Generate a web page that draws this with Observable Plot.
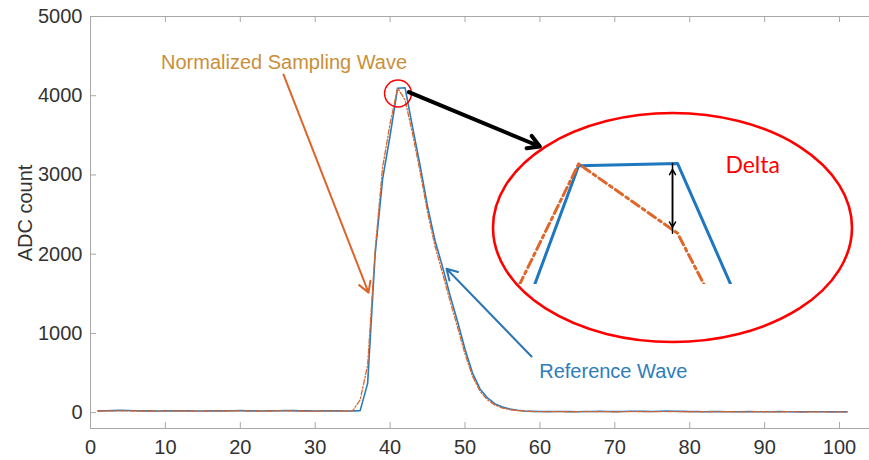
<!DOCTYPE html>
<html>
<head>
<meta charset="utf-8">
<script src="https://cdn.jsdelivr.net/npm/d3@7"></script>
<script src="https://cdn.jsdelivr.net/npm/@observablehq/plot@0.6"></script>
<style>
  html, body { margin: 0; padding: 0; background: #fff; }
  #chart { position: relative; width: 869px; height: 460px; overflow: hidden; }
  #chart svg { position: absolute; }
</style>
</head>
<body>
<div id="chart"></div>
<script>
// Sample index (time axis) and the two waveforms, in ADC counts
const sampleIndex = d3.range(1, 102);
const referenceWave = [
  22, 24, 26, 30, 27, 24, 23, 22, 21, 22,
  23, 24, 22, 21, 20, 22, 23, 22, 24, 25,
  23, 22, 21, 22, 24, 28, 25, 23, 22, 21,
  22, 23, 22, 21, 22,
  26, 370, 2000, 2950, 3500,
  4095, 4100, 3600, 3120, 2600,
  2170, 1840, 1480, 1150, 800,
  500, 300, 185, 110, 70,
  45, 30, 20, 16, 14,
  13, 14, 15, 13, 12, 14, 15, 16, 14, 13,
  15, 17, 18, 16, 15, 17, 19, 18, 16, 14,
  13, 12, 13, 14, 12, 11, 12, 13, 12, 11,
  12, 13, 12, 11, 10, 11, 12, 11, 10, 11, 10
];
const samplingWave = [
  20, 21, 22, 23, 22, 21, 20, 21, 20, 21,
  22, 21, 20, 19, 20, 21, 22, 21, 22, 23,
  22, 21, 20, 21, 22, 24, 23, 21, 20, 20,
  21, 22, 21, 20, 24,
  160, 600, 2050, 3100, 3650,
  4099, 3945, 3520, 3040, 2530,
  2100, 1760, 1410, 1080, 740,
  460, 270, 160, 95, 58,
  38, 26, 20, 15, 13,
  12, 13, 12, 11, 12, 13, 12, 13, 12, 11,
  12, 13, 14, 13, 12, 13, 14, 13, 12, 11,
  12, 11, 12, 13, 12, 11, 10, 11, 12, 11,
  10, 11, 12, 11, 10, 11, 10, 11, 10, 9, 10
];

// Axes
const xTicks = [0, 10, 20, 30, 40, 50, 60, 70, 80, 90, 100];
const yTicks = [0, 1000, 2000, 3000, 4000, 5000];
const xDomain = [0, 104];
const yDomain = [-200, 5000];

// Magnified window around the peak (sample units, ADC counts)
const zoomX = [40.16, 42.94];
const zoomY = [3831, 4151];
const deltaSample = 42;

// Annotation anchors (data units)
const peakMarker = [{x: 41.05, y: 4028}];
const sampleArrow = [{x1: 25.77, y1: 4266, x2: 37.12, y2: 1515}];
const referenceArrow = [{x1: 58.88, y1: 709, x2: 47.53, y2: 1816}];
const zoomArrow = [{x1: 42.5, y1: 4045, x2: 59.99, y2: 3359}];
const sampleLabel = [{x: 25.84, y: 4420, text: "Normalized Sampling Wave"}];
const referenceLabel = [{x: 69.8, y: 523, text: "Reference Wave"}];
const deltaLabel = [{x: 42.76, y: 4096, text: "Delta"}];

const BLUE = "#2b7bba";
const ORANGE = "#dc652c";
const AXIS = "#a8a8a8";
const INK = "#333333";
const FONT = "'Liberation Sans', Arial, Helvetica, sans-serif";

const rows = sampleIndex.map((t, i) => ({t, ref: referenceWave[i], smp: samplingWave[i]}));

const main = Plot.plot({
  width: 869,
  height: 460,
  marginLeft: 90,
  marginRight: 0,
  marginTop: 16,
  marginBottom: 32,
  style: {fontFamily: FONT, fontSize: "20px", background: "transparent", color: INK},
  x: {domain: xDomain},
  y: {domain: yDomain},
  marks: [
    // box edges and inward ticks
    Plot.ruleX([xDomain[0]], {stroke: AXIS}),
    Plot.ruleY(yDomain, {stroke: AXIS}),
    Plot.tickX(xTicks, {x: d => d, stroke: AXIS, insetTop: 406}),
    Plot.tickX(xTicks, {x: d => d, stroke: AXIS, insetBottom: 406}),
    Plot.tickY(yTicks, {y: d => d, stroke: AXIS, insetRight: 773}),
    Plot.axisX({ticks: xTicks, tickSize: 0, tickPadding: 11, label: null, fill: INK, fontSize: 20}),
    Plot.axisY({ticks: yTicks, tickSize: 0, tickPadding: 8, label: null, tickFormat: "d", fill: INK, fontSize: 20}),
    Plot.text(["ADC count"], {text: d => d, y: 2520, frameAnchor: "left", textAnchor: "middle", dx: -65, rotate: -90, fontSize: 20, fill: INK}),
    // waveforms
    Plot.line(rows, {x: "t", y: "ref", stroke: BLUE, strokeWidth: 1.6}),
    Plot.line(rows, {x: "t", y: "smp", stroke: ORANGE, strokeWidth: 1.3, strokeDasharray: "5,2,1.5,2"}),
    // callouts
    Plot.dot(peakMarker, {x: "x", y: "y", r: 13.4, stroke: "#ff0000", strokeWidth: 1.5, fill: "none"}),
    Plot.arrow(sampleArrow, {x1: "x1", y1: "y1", x2: "x2", y2: "y2", stroke: ORANGE, strokeWidth: 2, headLength: 9}),
    Plot.arrow(referenceArrow, {x1: "x1", y1: "y1", x2: "x2", y2: "y2", stroke: "#2c75b2", strokeWidth: 2, headLength: 9}),
    Plot.arrow(zoomArrow, {x1: "x1", y1: "y1", x2: "x2", y2: "y2", stroke: "#000", strokeWidth: 4, headLength: 5}),
    Plot.text(sampleLabel, {x: "x", y: "y", text: "text", fill: "#c98f3a", fontSize: 20}),
    Plot.text(referenceLabel, {x: "x", y: "y", text: "text", fill: "#2e7dba", fontSize: 20})
  ]
});
main.style.left = "0px";
main.style.top = "0px";

// Magnified view of the peak inside a red ellipse
const deltaRow = rows.find(r => r.t === deltaSample);
const deltaEnds = [{from: deltaRow.smp, to: deltaRow.ref}, {from: deltaRow.ref, to: deltaRow.smp}];

const ellipseMark = () => {
  const e = document.createElementNS("http://www.w3.org/2000/svg", "ellipse");
  e.setAttribute("cx", 182.5);
  e.setAttribute("cy", 117.5);
  e.setAttribute("rx", 179.5);
  e.setAttribute("ry", 114.5);
  e.setAttribute("fill", "none");
  e.setAttribute("stroke", "#ff0000");
  e.setAttribute("stroke-width", 2.6);
  return e;
};

const inset = Plot.plot({
  width: 370,
  height: 240,
  marginLeft: 5,
  marginRight: 90,
  marginTop: 30,
  marginBottom: 66,
  style: {background: "transparent", overflow: "visible"},
  x: {domain: zoomX, axis: null},
  y: {domain: zoomY, axis: null},
  marks: [
    ellipseMark,
    Plot.line(rows, {x: "t", y: "ref", stroke: "#1f77c0", strokeWidth: 3, clip: true}),
    Plot.line(rows, {x: "t", y: "smp", stroke: "#e0672a", strokeWidth: 3, strokeDasharray: "9,4,3,4", clip: true}),
    Plot.arrow(deltaEnds, {x1: () => deltaSample, x2: () => deltaSample, y1: "from", y2: "to", dx: -5, insetStart: 0, insetEnd: 6, stroke: "#000", strokeWidth: 1.5, headLength: 6}),
    Plot.text(deltaLabel, {x: "x", y: "y", text: "text", fill: "#ff0000", fontSize: 23, fontFamily: "Lato, 'Open Sans', sans-serif"})
  ]
});
inset.style.left = "490px";
inset.style.top = "110px";

const chart = document.getElementById("chart");
chart.appendChild(main);
chart.appendChild(inset);
</script>
</body>
</html>
